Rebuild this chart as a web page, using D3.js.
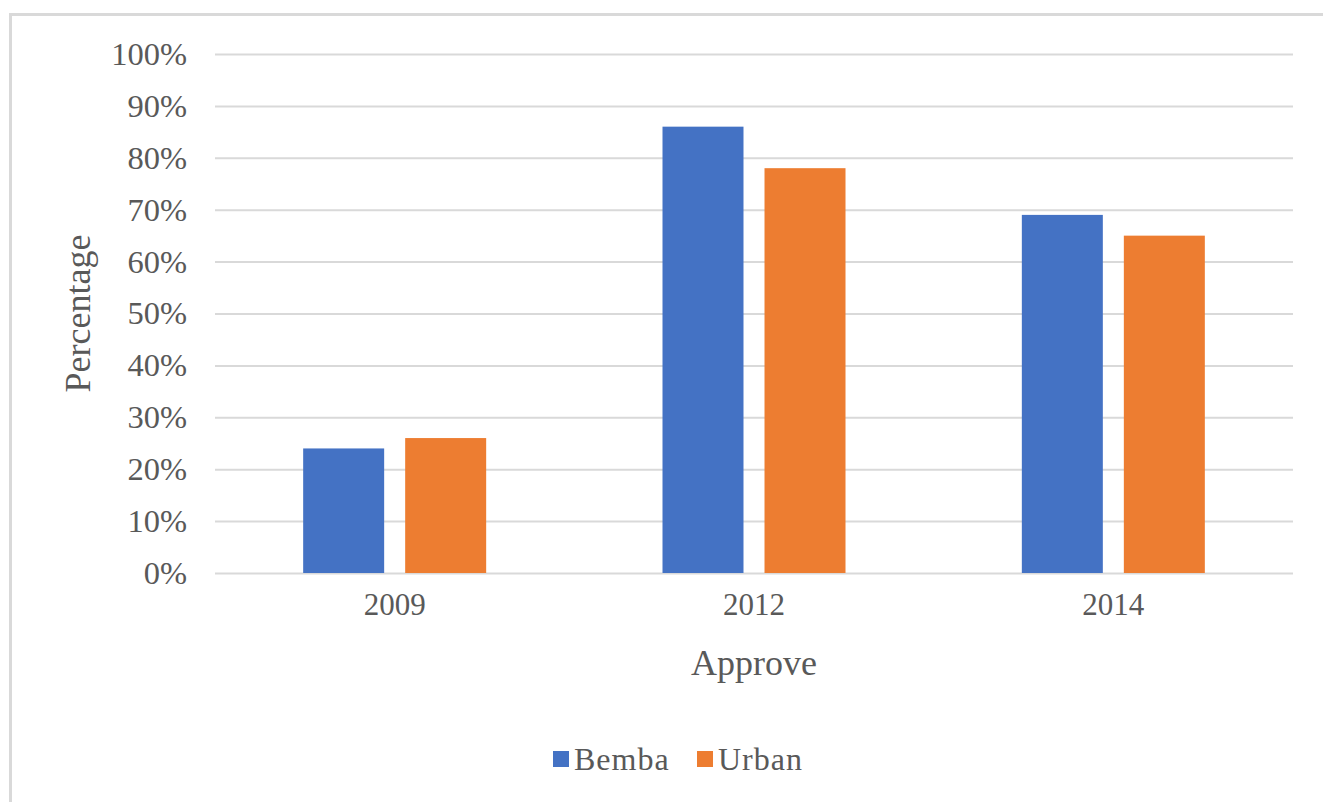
<!DOCTYPE html>
<html>
<head>
<meta charset="utf-8">
<script src="https://cdn.jsdelivr.net/npm/d3@7"></script>
<style>
  html, body { margin: 0; padding: 0; background: #fff; }
  svg { display: block; }
</style>
</head>
<body>
<svg id="chart" width="1323" height="802"></svg>
<script>
const categories = ["2009", "2012", "2014"];
const seriesNames = ["Bemba", "Urban"];
const bembaValues = [24, 86, 69];
const urbanValues = [26, 78, 65];
const yTicks = [0, 10, 20, 30, 40, 50, 60, 70, 80, 90, 100];
const colors = ["#4472C4", "#ED7D31"];
const xTitle = "Approve";
const yTitle = "Percentage";

const seriesValues = [bembaValues, urbanValues];
const data = categories.map((c, i) => ({
  cat: c,
  vals: seriesNames.map((s, j) => ({ key: s, value: seriesValues[j][i], color: colors[j] }))
}));

const svg = d3.select("#chart");
const font = "'Liberation Serif', 'Times New Roman', serif";
const textColor = "#595959";

// outer border
svg.append("rect")
  .attr("x", 10.5).attr("y", 14.5)
  .attr("width", 1400).attr("height", 900)
  .attr("fill", "none").attr("stroke", "#d9d9d9").attr("stroke-width", 3);

const plotLeft = 215, plotRight = 1293, plotTop = 54, plotBottom = 573;

const x0 = d3.scaleBand().domain(categories).range([plotLeft, plotRight]).padding(0);
const groupW = 183;
const x1 = d3.scaleBand().domain(seriesNames)
  .range([x0.bandwidth() / 2 - groupW / 2, x0.bandwidth() / 2 + groupW / 2])
  .paddingInner(0.206).paddingOuter(0);
const y = d3.scaleLinear().domain([0, 100]).range([plotBottom, plotTop]);

// gridlines via axis
const yAxis = d3.axisLeft(y).tickValues(yTicks)
  .tickSize(-(plotRight - plotLeft)).tickPadding(28)
  .tickFormat(d => d + "%");
const gy = svg.append("g").attr("transform", `translate(${plotLeft},0)`).call(yAxis);
gy.select(".domain").remove();
gy.selectAll(".tick line").attr("stroke", "#d9d9d9").attr("stroke-width", 2);
gy.selectAll(".tick text")
  .attr("font-family", font).attr("font-size", 32.5).attr("fill", textColor);

// bars
const groups = svg.append("g").selectAll("g").data(data).join("g")
  .attr("transform", d => `translate(${x0(d.cat)},0)`);
groups.selectAll("rect").data(d => d.vals).join("rect")
  .attr("x", d => x1(d.key))
  .attr("width", x1.bandwidth())
  .attr("y", d => y(d.value))
  .attr("height", d => y(0) - y(d.value))
  .attr("fill", d => d.color);

// x axis labels
const xAxis = d3.axisBottom(x0).tickSize(0).tickPadding(20);
const gx = svg.append("g").attr("transform", `translate(0,${plotBottom})`).call(xAxis);
gx.select(".domain").remove();
gx.selectAll(".tick text")
  .attr("font-family", font).attr("font-size", 31).attr("fill", textColor);

// axis titles
svg.append("text")
  .attr("x", (plotLeft + plotRight) / 2).attr("y", 663)
  .attr("text-anchor", "middle").attr("dominant-baseline", "central")
  .attr("font-family", font).attr("font-size", 36).attr("fill", textColor)
  .text(xTitle);
svg.append("text")
  .attr("transform", `translate(78,${(plotTop + plotBottom) / 2}) rotate(-90)`)
  .attr("text-anchor", "middle").attr("dominant-baseline", "central")
  .attr("font-family", font).attr("font-size", 36).attr("fill", textColor)
  .text(yTitle);

// legend
const legendItems = [
  { name: seriesNames[0], color: colors[0], x: 553 },
  { name: seriesNames[1], color: colors[1], x: 697 }
];
const lg = svg.append("g").selectAll("g").data(legendItems).join("g")
  .attr("transform", d => `translate(${d.x},751)`);
lg.append("rect").attr("width", 16).attr("height", 16).attr("fill", d => d.color);
lg.append("text").attr("x", 21).attr("y", 8)
  .attr("dominant-baseline", "central")
  .attr("font-family", font).attr("font-size", 32).attr("fill", textColor)
  .attr("letter-spacing", 1)
  .text(d => d.name);
</script>
</body>
</html>
